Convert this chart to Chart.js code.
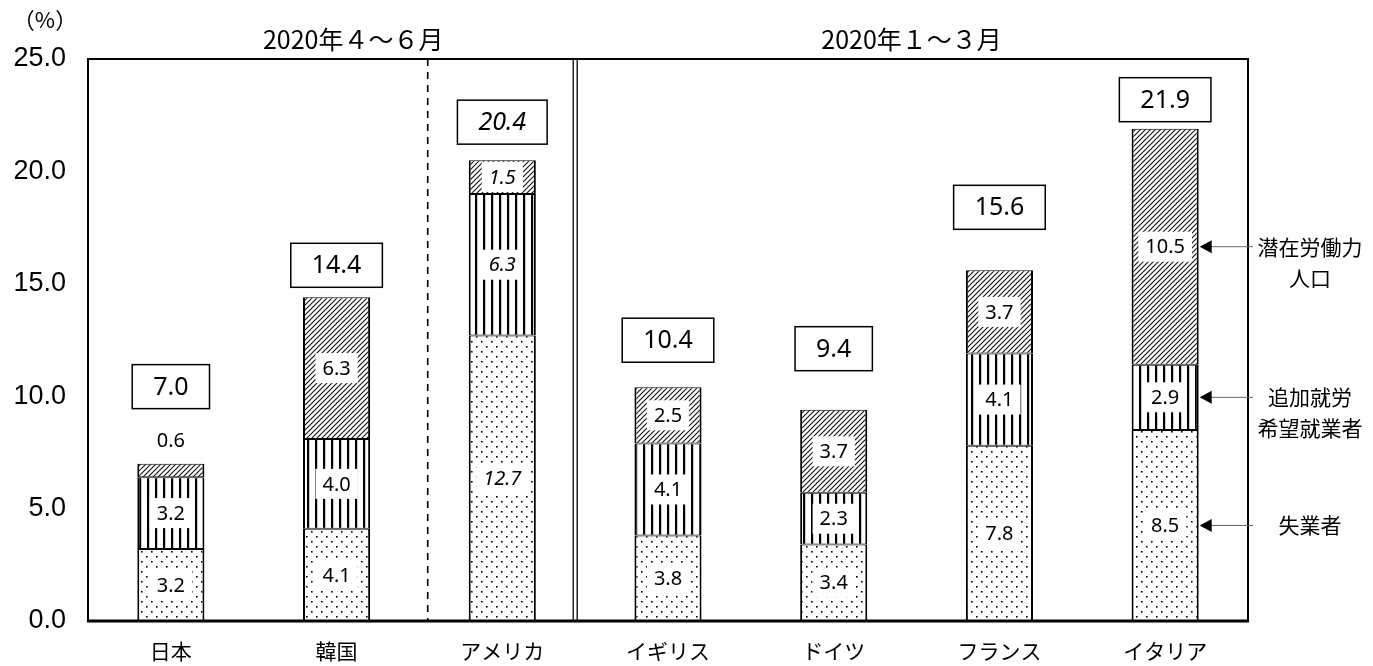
<!DOCTYPE html>
<html>
<head>
<meta charset="utf-8">
<script src="https://cdn.jsdelivr.net/npm/chart.js@4/dist/chart.umd.min.js"></script>
<style>
  body { margin: 0; background: #fff; }
</style>
</head>
<body>
<canvas id="laborChart" width="1373" height="666"></canvas>
<script>
let countries = ["日本", "韓国", "アメリカ", "イギリス", "ドイツ", "フランス", "イタリア"];
let unemployed = [3.2, 4.1, 12.7, 3.8, 3.4, 7.8, 8.5];
let additionalWork = [3.2, 4.0, 6.3, 4.1, 2.3, 4.1, 2.9];
let potentialLabor = [0.6, 6.3, 1.5, 2.5, 3.7, 3.7, 10.5];
let totals = [7.0, 14.4, 20.4, 10.4, 9.4, 15.6, 21.9];
let seriesNames = [["失業者"], ["追加就労", "希望就業者"], ["潜在労働力", "人口"]];
let periods = ["2020年４～６月", "2020年１～３月"];
let yMax = 25;
let yStep = 5;

const jp = '"Noto Sans CJK JP", "Noto Sans", sans-serif';
const num = '"Noto Sans", "Open Sans", sans-serif';

// fill patterns (dots / vertical lines / diagonal hatch)
function makePattern(kind) {
  let c = document.createElement("canvas");
  let g = c.getContext("2d");
  if (kind == "dots") {
    c.width = 10; c.height = 10;
    g.fillStyle = "#fff"; g.fillRect(0, 0, 10, 10);
    g.fillStyle = "#000";
    g.fillRect(1, 1, 1.6, 1.6);
    g.fillRect(6, 6, 1.6, 1.6);
  } else if (kind == "vlines") {
    c.width = 8; c.height = 4;
    g.fillStyle = "#fff"; g.fillRect(0, 0, 8, 4);
    g.fillStyle = "#000";
    g.fillRect(3, 0, 2.2, 4);
  } else {
    c.width = 5; c.height = 5;
    g.fillStyle = "#fff"; g.fillRect(0, 0, 5, 5);
    g.strokeStyle = "#111";
    g.lineWidth = 1.1;
    g.beginPath();
    g.moveTo(0, 5); g.lineTo(5, 0);
    g.moveTo(-1, 1); g.lineTo(1, -1);
    g.moveTo(4, 6); g.lineTo(6, 4);
    g.stroke();
  }
  return document.getElementById("laborChart").getContext("2d").createPattern(c, "repeat");
}

let overlay = {
  id: "overlay",
  afterDatasetsDraw(chart, args, opts) {
    let ctx = chart.ctx;
    let a = chart.chartArea;
    let xs = chart.scales.x;
    ctx.save();

    // segment value labels
    chart.data.datasets.forEach((ds, di) => {
      chart.getDatasetMeta(di).data.forEach((bar, i) => {
        let italic = i == opts.italicIndex ? "italic " : "";
        ctx.font = italic + "20px " + num;
        let txt = ds.data[i].toFixed(1);
        let h = bar.base - bar.y;
        let cy = h < 20 ? bar.y - 23 : (bar.y + bar.base) / 2;
        let tw = ctx.measureText(txt).width;
        let bw = Math.min(tw + 14, bar.width - 6);
        ctx.fillStyle = "#fff";
        ctx.fillRect(bar.x - bw / 2, cy - 15, bw, 30);
        ctx.fillStyle = "#000";
        ctx.textAlign = "center";
        ctx.textBaseline = "middle";
        ctx.fillText(txt, bar.x, cy + 1);
      });
    });

    // total boxes
    let topMeta = chart.getDatasetMeta(chart.data.datasets.length - 1);
    totals.forEach((t, i) => {
      let bar = topMeta.data[i];
      let italic = i == opts.italicIndex ? "italic " : "";
      ctx.font = italic + "25px " + num;
      let txt = t.toFixed(1);
      let bw = ctx.measureText(txt).width + 42;
      let bh = 44;
      let bottom = bar.y - opts.boxGaps[i];
      ctx.fillStyle = "#fff";
      ctx.fillRect(bar.x - bw / 2, bottom - bh, bw, bh);
      ctx.strokeStyle = "#000";
      ctx.lineWidth = 1.5;
      ctx.strokeRect(bar.x - bw / 2, bottom - bh, bw, bh);
      ctx.fillStyle = "#000";
      ctx.textAlign = "center";
      ctx.textBaseline = "middle";
      ctx.fillText(txt, bar.x, bottom - bh / 2 + 1);
    });

    // plot frame
    ctx.strokeStyle = "#000";
    ctx.lineWidth = 2;
    ctx.beginPath();
    ctx.moveTo(a.left, a.bottom);
    ctx.lineTo(a.left, a.top);
    ctx.lineTo(a.right, a.top);
    ctx.lineTo(a.right, a.bottom);
    ctx.stroke();
    ctx.lineWidth = 3;
    ctx.beginPath();
    ctx.moveTo(a.left - 1, a.bottom);
    ctx.lineTo(a.right + 1, a.bottom);
    ctx.stroke();

    // period separators
    let dx = xs.getPixelForValue(opts.dashAt);
    ctx.lineWidth = 1.6;
    ctx.setLineDash([7, 6]);
    ctx.beginPath();
    ctx.moveTo(dx, a.top);
    ctx.lineTo(dx, a.bottom);
    ctx.stroke();
    ctx.setLineDash([]);
    let sx = xs.getPixelForValue(opts.doubleAt);
    ctx.lineWidth = 1.3;
    [-2, 2].forEach((o) => {
      ctx.beginPath();
      ctx.moveTo(sx + o, a.top);
      ctx.lineTo(sx + o, a.bottom);
      ctx.stroke();
    });

    // period headers and unit
    ctx.fillStyle = "#000";
    ctx.textAlign = "center";
    ctx.textBaseline = "middle";
    ctx.font = "25px " + jp;
    periods.forEach((p, k) => {
      ctx.fillText(p, xs.getPixelForValue(opts.periodAt[k]), a.top - 20);
    });
    ctx.font = "22px " + jp;
    ctx.fillText("（%）", 45, 20);

    // series annotations on last bar
    let last = countries.length - 1;
    chart.data.datasets.forEach((ds, di) => {
      let bar = chart.getDatasetMeta(di).data[last];
      let cy = (bar.y + bar.base) / 2;
      let x0 = bar.x + bar.width / 2 + 1;
      ctx.strokeStyle = "#666";
      ctx.lineWidth = 1;
      ctx.beginPath();
      ctx.moveTo(x0 + 8, cy);
      ctx.lineTo(a.right + 5, cy);
      ctx.stroke();
      ctx.fillStyle = "#000";
      ctx.beginPath();
      ctx.moveTo(x0, cy);
      ctx.lineTo(x0 + 12, cy - 6.5);
      ctx.lineTo(x0 + 12, cy + 6.5);
      ctx.closePath();
      ctx.fill();
      ctx.font = "21px " + jp;
      seriesNames[di].forEach((line, li) => {
        ctx.fillText(line, a.right + 62, cy + li * 31);
      });
    });

    ctx.restore();
  },
};

let border = { top: 1, bottom: 1, left: 2, right: 2 };
let ctx = document.getElementById("laborChart").getContext("2d");
new Chart(ctx, {
  type: "bar",
  data: {
    labels: countries,
    datasets: [
      { label: "失業者", data: unemployed, backgroundColor: makePattern("dots") },
      { label: "追加就労希望就業者", data: additionalWork, backgroundColor: makePattern("vlines") },
      { label: "潜在労働力人口", data: potentialLabor, backgroundColor: makePattern("hatch") },
    ].map((d) => Object.assign(d, {
      borderColor: "#000",
      borderWidth: border,
      borderSkipped: false,
      barPercentage: 0.405,
      categoryPercentage: 1,
    })),
  },
  options: {
    responsive: false,
    animation: false,
    layout: { padding: { top: 59, right: 125, left: 0, bottom: 0 } },
    plugins: {
      legend: { display: false },
      tooltip: { enabled: false },
      overlay: {
        italicIndex: 2,
        boxGaps: [55, 10, 16, 25, 39, 41, 7],
        dashAt: 1.55,
        doubleAt: 2.44,
        periodAt: [1.1, 4.47],
      },
    },
    scales: {
      x: {
        stacked: true,
        grid: { display: false, drawTicks: false },
        border: { display: false },
        ticks: { color: "#000", font: { family: jp, size: 21 }, padding: 17 },
        afterFit: (s) => { s.height = 45; },
      },
      y: {
        stacked: true,
        min: 0,
        max: yMax,
        grid: { display: false, drawTicks: false },
        border: { display: false },
        ticks: {
          stepSize: yStep,
          color: "#000",
          padding: 22,
          font: { family: '"Liberation Sans", sans-serif', size: 27 },
          callback: (v) => v.toFixed(1),
        },
        afterFit: (s) => { s.width = 88; },
      },
    },
  },
  plugins: [overlay],
});
</script>
</body>
</html>
